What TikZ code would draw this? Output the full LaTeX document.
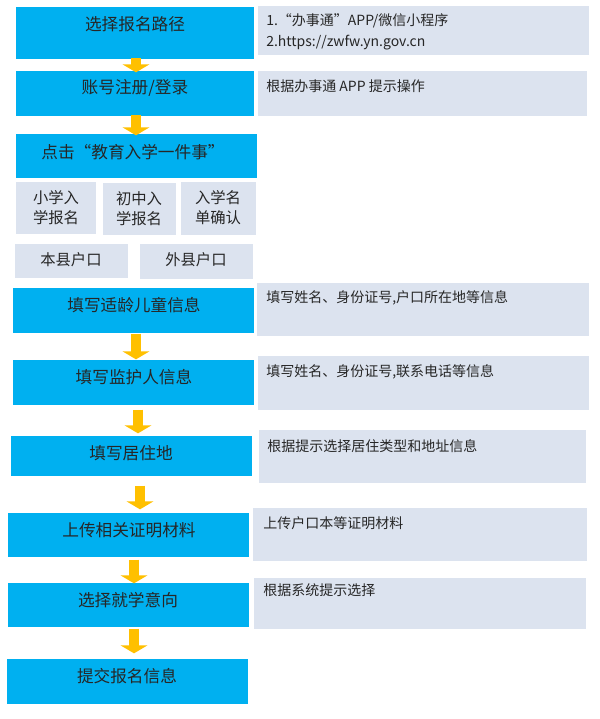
\documentclass[tikz,border=0pt]{standalone}
\usepackage{fontspec}
\setmainfont{Noto Sans CJK SC}
\usetikzlibrary{fit,arrows.meta}
\definecolor{bblue}{HTML}{00B0F0}
\definecolor{bgray}{HTML}{DCE3EF}
\definecolor{aylw}{HTML}{FFC000}
\tikzset{
  bbox/.style={fill=bblue,draw=none,inner sep=0pt},
  gbox/.style={fill=bgray,draw=none,inner sep=0pt},
  btxt/.style={font=\fontsize{12.5}{14}\selectfont,text=black!85,inner sep=0pt},
  gtxt/.style={font=\fontsize{10.5}{15}\selectfont,text=black!85,inner sep=0pt,anchor=west,align=left},
  flow/.style={draw=aylw,line width=7.5pt,-{Triangle[width=20pt,length=6pt]},shorten <=-1pt,shorten >=-1pt}
}
\begin{document}
\begin{tikzpicture}[x=0.75pt,y=-0.75pt]
\useasboundingbox[fill=white] (0,0) rectangle (600,719);
% blue steps
\node[bbox,fit={(16,7) (254,59)}] (b1) {};
\node[btxt] (t1) at (135,24) {选择报名路径};
\node[bbox,fit={(16,71) (254,116)}] (b2) {};
\node[btxt] (t2) at (135,88) {账号注册/登录};
\node[bbox,fit={(16,134) (257,178)}] (b3) {};
\node[btxt] (t3) at (133,152) {点击“教育入学一件事”};
\node[gbox,fit={(16,182) (96,234)}] (g1) {};
\node[btxt,align=center,font=\fontsize{11.5}{15}\selectfont] at (56,208) {小学入\\学报名};
\node[gbox,fit={(103,183) (176,235)}] (g2) {};
\node[btxt,align=center,font=\fontsize{11.5}{15}\selectfont] at (139,209) {初中入\\学报名};
\node[gbox,fit={(181,182) (256,235)}] (g3) {};
\node[btxt,align=center,font=\fontsize{11.5}{15}\selectfont] at (218,208) {入学名\\单确认};
\node[gbox,fit={(15,244) (128,278)}] (g4) {};
\node[btxt,font=\fontsize{11.5}{14}\selectfont] at (71,260) {本县户口};
\node[gbox,fit={(140,244) (253,279)}] (g5) {};
\node[btxt,font=\fontsize{11.5}{14}\selectfont] at (196,260) {外县户口};
\node[bbox,fit={(13,288) (254,333)}] (b4) {};
\node[btxt] at (134,305) {填写适龄儿童信息};
\node[bbox,fit={(13,360) (254,405)}] (b5) {};
\node[btxt] at (134,377) {填写监护人信息};
\node[bbox,fit={(11,436) (252,476)}] (b6) {};
\node[btxt] at (131,453) {填写居住地};
\node[bbox,fit={(8,513) (249,557)}] (b7) {};
\node[btxt] at (129,530) {上传相关证明材料};
\node[bbox,fit={(8,583) (249,627)}] (b8) {};
\node[btxt] at (128,600) {选择就学意向};
\node[bbox,fit={(7,659) (248,704)}] (b9) {};
\node[btxt] at (127,676) {提交报名信息};
% right notes
\node[gbox,fit={(258,6) (589,55)}] (n1) {};
\node[gtxt] at (266,21) {1.“办事通”APP/微信小程序};
\node[gtxt] at (266,43) {2.https://zwfw.yn.gov.cn};
\node[gbox,fit={(258,71) (587,116)}] (n2) {};
\node[gtxt] at (266,86) {根据办事通 APP 提示操作};
\node[gbox,fit={(257,283) (589,336)}] (n3) {};
\node[gtxt] at (266,298) {填写姓名、身份证号,户口所在地等信息};
\node[gbox,fit={(258,356) (589,410)}] (n4) {};
\node[gtxt] at (266,372) {填写姓名、身份证号,联系电话等信息};
\node[gbox,fit={(259,430) (586,483)}] (n5) {};
\node[gtxt] at (267,446) {根据提示选择居住类型和地址信息};
\node[gbox,fit={(253,508) (587,561)}] (n6) {};
\node[gtxt] at (263,523) {上传户口本等证明材料};
\node[gbox,fit={(254,578) (586,629)}] (n7) {};
\node[gtxt] at (263,590) {根据系统提示选择};
% arrows
\coordinate (a1s) at (136,59); \coordinate (a1e) at (136,71);
\coordinate (a2s) at (136,116); \coordinate (a2e) at (136,134);
\coordinate (a3s) at (136,335); \coordinate (a3e) at (136,358);
\coordinate (a4s) at (138,411); \coordinate (a4e) at (138,432);
\coordinate (a5s) at (140,487); \coordinate (a5e) at (140,508);
\coordinate (a6s) at (134,561); \coordinate (a6e) at (134,582);
\coordinate (a7s) at (134,630); \coordinate (a7e) at (134,652);
\foreach \i in {1,...,7} \draw[flow] (a\i s) -- (a\i e);
\end{tikzpicture}
\end{document}
